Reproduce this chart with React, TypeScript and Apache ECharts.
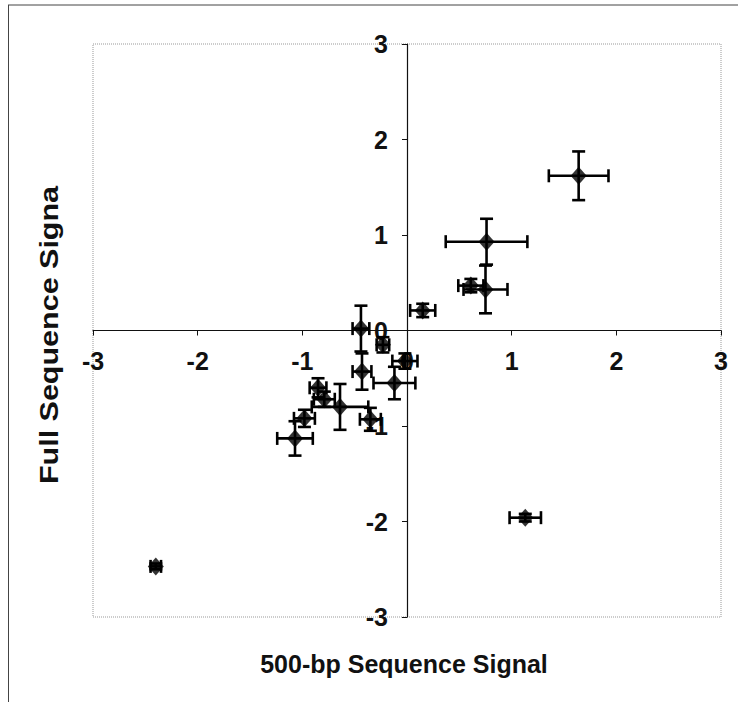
import React, { useEffect, useRef } from "react";
import * as echarts from "echarts";

const xValues = [1.64, 0.76, 0.75, 0.61, 0.15, -0.44, -0.23, -0.02, -0.43, -0.12, -0.85, -0.79, -0.64, -0.35, -0.98, -1.07, 1.13, -2.4];
const yValues = [1.62, 0.93, 0.43, 0.47, 0.21, 0.02, -0.15, -0.32, -0.43, -0.55, -0.6, -0.72, -0.8, -0.93, -0.92, -1.13, -1.96, -2.47];
const xErrors = [0.285, 0.39, 0.21, 0.12, 0.12, 0.08, 0.06, 0.12, 0.09, 0.2, 0.08, 0.1, 0.27, 0.1, 0.1, 0.17, 0.15, 0.05];
const yErrors = [0.255, 0.24, 0.25, 0.07, 0.07, 0.24, 0.08, 0.08, 0.19, 0.17, 0.1, 0.08, 0.24, 0.12, 0.09, 0.18, 0.04, 0.03];
const tickValues = [-3, -2, -1, 0, 1, 2, 3];
const xTitle = "500-bp Sequence Signal";
const yTitle = "Full Sequence Signa";

export default function App() {
  const ref = useRef<HTMLDivElement>(null);
  useEffect(() => {
    if (!ref.current) return;
    document.body.style.margin = "0";
    const chart = echarts.init(ref.current, undefined, { renderer: "svg" });
    const pts = xValues.map((x, i) => [x, yValues[i], xErrors[i], yErrors[i]]);
    const font = "'Liberation Sans', Arial, sans-serif";
    const cap = 6.5;
    const gridLeft = 93, gridTop = 44, gridW = 628, gridH = 573;
    chart.setOption({
      animation: false,
      backgroundColor: "#fff",
      grid: {
        left: gridLeft, top: gridTop, width: gridW, height: gridH,
        show: true, borderColor: "#999", borderWidth: 1, borderType: "dotted",
        backgroundColor: "transparent",
      },
      xAxis: {
        type: "value", min: -3, max: 3, interval: 1, position: "bottom",
        offset: -gridH / 2,
        axisLine: { onZero: false, lineStyle: { color: "#111", width: 1.2 } },
        axisTick: { show: true, inside: false, length: 5, lineStyle: { color: "#111" } },
        splitLine: { show: false },
        axisLabel: {
          margin: 18, color: "#111", fontSize: 25, fontWeight: "bold", fontFamily: font,
          showMinLabel: true, showMaxLabel: true, hideOverlap: false,
          formatter: (v: number) => (tickValues.includes(v) ? String(v) : ""),
        },
      },
      yAxis: {
        type: "value", min: -3, max: 3, interval: 1, position: "left",
        offset: -gridW / 2,
        axisLine: { onZero: false, lineStyle: { color: "#111", width: 1.2 } },
        axisTick: { show: true, inside: false, length: 5, lineStyle: { color: "#111" } },
        splitLine: { show: false },
        axisLabel: {
          margin: 19, color: "#111", fontSize: 25, fontWeight: "bold", fontFamily: font,
          showMinLabel: true, showMaxLabel: true, hideOverlap: false,
          formatter: (v: number) => (tickValues.includes(v) ? String(v) : ""),
        },
      },
      series: [
        {
          type: "custom",
          data: pts,
          z: 3,
          renderItem: (params: any, api: any) => {
            const x = api.value(0), y = api.value(1), ex = api.value(2), ey = api.value(3);
            const l = api.coord([x - ex, y]);
            const r = api.coord([x + ex, y]);
            const t = api.coord([x, y + ey]);
            const b = api.coord([x, y - ey]);
            const style = { stroke: "#000", lineWidth: 2.6 };
            const ln = (x1: number, y1: number, x2: number, y2: number) => ({
              type: "line", shape: { x1, y1, x2, y2 }, style,
            });
            return {
              type: "group",
              children: [
                ln(l[0], l[1], r[0], r[1]),
                ln(l[0], l[1] - cap, l[0], l[1] + cap),
                ln(r[0], r[1] - cap, r[0], r[1] + cap),
                ln(t[0], t[1], b[0], b[1]),
                ln(t[0] - cap, t[1], t[0] + cap, t[1]),
                ln(b[0] - cap, b[1], b[0] + cap, b[1]),
              ],
            };
          },
        },
        {
          type: "scatter",
          data: pts.map((p) => [p[0], p[1]]),
          symbol: "diamond",
          symbolSize: [16, 18],
          itemStyle: { color: "#000" },
          z: 4,
        },
      ],
      graphic: [
        { type: "line", shape: { x1: 8, y1: 5, x2: 738, y2: 5 }, style: { stroke: "#444", lineWidth: 1 } },
        { type: "line", shape: { x1: 8.5, y1: 5, x2: 8.5, y2: 702 }, style: { stroke: "#444", lineWidth: 1 } },
        {
          type: "text", x: 404, y: 664,
          style: { text: xTitle, font: `bold 25px ${font}`, fill: "#111", align: "center", verticalAlign: "middle" },
        },
        {
          type: "text", x: 49, y: 335, rotation: Math.PI / 2, scaleX: 1.22,
          style: { text: yTitle, font: `bold 25px ${font}`, fill: "#111", align: "center", verticalAlign: "middle" },
        },
      ],
    });
    return () => chart.dispose();
  }, []);
  return <div ref={ref} style={{ width: 740, height: 702 }} />;
}
